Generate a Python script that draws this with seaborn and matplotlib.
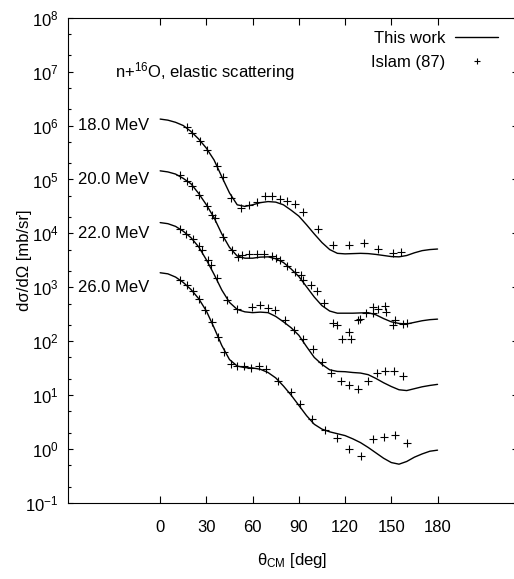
import numpy as np
import pandas as pd
import matplotlib
matplotlib.use("Agg")
import matplotlib.pyplot as plt
from matplotlib import font_manager
from matplotlib.lines import Line2D
from matplotlib.ticker import FixedLocator, FuncFormatter, LogLocator, NullFormatter
import seaborn as sns

# ---------------------------------------------------------------- data
energies = ["18.0 MeV", "20.0 MeV", "22.0 MeV", "26.0 MeV"]

# calculated angular distributions, log10 of plotted dsigma/dOmega
# (curves are shifted by factors of 10 for display)
theta_calc = [0, 5, 10, 15, 20, 25, 30, 35, 40, 45, 50, 55, 60, 65, 70, 75, 80, 85, 90,
              95, 100, 105, 110, 115, 120, 125, 130, 135, 140, 145, 150, 155, 160, 165,
              170, 175, 180]
calc_18 = [6.12, 6.10, 6.06, 6.00, 5.89, 5.75, 5.58, 5.36, 5.05, 4.75, 4.53, 4.50, 4.53,
           4.57, 4.59, 4.58, 4.53, 4.43, 4.32, 4.16, 3.99, 3.83, 3.70, 3.63, 3.62, 3.625,
           3.63, 3.625, 3.61, 3.59, 3.57, 3.565, 3.59, 3.64, 3.68, 3.70, 3.71]
calc_20 = [5.16, 5.14, 5.10, 5.02, 4.92, 4.74, 4.53, 4.29, 3.99, 3.74, 3.58, 3.54, 3.54,
           3.56, 3.565, 3.53, 3.46, 3.34, 3.20, 3.01, 2.82, 2.66, 2.56, 2.52, 2.52, 2.52,
           2.525, 2.53, 2.49, 2.42, 2.36, 2.33, 2.32, 2.35, 2.38, 2.40, 2.41]
calc_22 = [4.20, 4.18, 4.13, 4.04, 3.92, 3.75, 3.51, 3.24, 2.95, 2.72, 2.59, 2.545, 2.53,
           2.54, 2.53, 2.46, 2.36, 2.25, 2.11, 1.90, 1.70, 1.57, 1.47, 1.44, 1.435, 1.42,
           1.41, 1.38, 1.31, 1.23, 1.16, 1.10, 1.085, 1.12, 1.155, 1.18, 1.20]
calc_26 = [3.27, 3.25, 3.19, 3.09, 2.96, 2.79, 2.56, 2.25, 1.92, 1.66, 1.54, 1.51, 1.505,
           1.48, 1.42, 1.32, 1.17, 1.00, 0.81, 0.62, 0.46, 0.37, 0.32, 0.285, 0.25, 0.19,
           0.12, 0.03, -0.07, -0.17, -0.25, -0.28, -0.23, -0.15, -0.09, -0.04, -0.02]

# measured points, Islam (87): angle and log10 of plotted dsigma/dOmega
theta_exp_18 = [17.1, 20.8, 25.8, 30.5, 36.6, 40.5, 45.9, 52.2, 57.8, 62.9, 68.1, 72.9,
                77.7, 82.4, 87.6, 92.6, 102.5, 112.3, 122.7, 132.4, 141.5, 151.2, 156.6]
exp_18 = [5.98, 5.87, 5.72, 5.545, 5.25, 5.04, 4.65, 4.48, 4.53, 4.59, 4.69, 4.69,
          4.64, 4.605, 4.54, 4.395, 4.09, 3.78, 3.78, 3.83, 3.71, 3.64, 3.65]

theta_exp_20 = [12.8, 17.1, 20.4, 25.3, 30.5, 33.4, 35.5, 40.9, 46.3, 50.6, 52.8, 57.8,
                62.6, 67.3, 72.9, 75.1, 77.7, 82.4, 87.4, 91.1, 92.4, 97.6, 101.9, 106.4,
                111.9, 114.5, 117.7, 122.7, 123.6, 128.5, 130.0, 133.5, 137.8, 137.8,
                141.5, 145.8, 146.3, 151.2, 152.5, 157.3, 159.9]
exp_20 = [5.08, 4.98, 4.88, 4.71, 4.51, 4.35, 4.28, 3.94, 3.69, 3.565, 3.60, 3.61,
          3.62, 3.62, 3.58, 3.54, 3.505, 3.40, 3.29, 3.23, 3.14, 3.04, 2.94, 2.70,
          2.34, 2.31, 2.04, 2.17, 2.04, 2.40, 2.42, 2.52, 2.63, 2.53,
          2.59, 2.65, 2.545, 2.30, 2.40, 2.32, 2.33]

theta_exp_22 = [12.8, 16.7, 21.0, 25.3, 26.9, 31.1, 32.9, 37.2, 43.5, 50.0, 59.3, 64.7,
                70.1, 74.4, 80.9, 87.0, 92.8, 98.9, 104.7, 110.8, 117.1, 122.7, 128.5,
                134.6, 140.4, 145.8, 151.6, 157.7]
exp_22 = [4.09, 3.98, 3.89, 3.76, 3.69, 3.50, 3.42, 3.165, 2.76, 2.59, 2.63, 2.67,
          2.61, 2.58, 2.40, 2.21, 2.05, 1.85, 1.61, 1.41, 1.265, 1.19, 1.12,
          1.26, 1.41, 1.44, 1.455, 1.35]

theta_exp_26 = [12.8, 17.1, 21.0, 25.3, 29.0, 33.4, 37.6, 41.3, 45.7, 50.0, 54.5, 58.7,
                64.3, 68.6, 76.6, 84.6, 90.7, 98.6, 107.1, 114.5, 122.5, 130.2, 138.2,
                145.4, 152.7, 160.3]
exp_26 = [3.13, 3.04, 2.93, 2.78, 2.58, 2.36, 2.08, 1.80, 1.575, 1.54, 1.54, 1.51,
          1.54, 1.48, 1.265, 1.06, 0.83, 0.555, 0.35, 0.197, -0.007, -0.13, 0.18,
          0.23, 0.27, 0.115]

x_ticks = [0, 30, 60, 90, 120, 150, 180]
legend_labels = ["This work", "Islam (87)"]

# ---------------------------------------------------------------- tables
calc_sets = [calc_18, calc_20, calc_22, calc_26]
exp_sets = [(theta_exp_18, exp_18), (theta_exp_20, exp_20),
            (theta_exp_22, exp_22), (theta_exp_26, exp_26)]

curves = pd.concat(
    [pd.DataFrame({"theta": theta_calc, "dsig": np.power(10.0, c), "energy": e})
     for e, c in zip(energies, calc_sets)], ignore_index=True)
points = pd.concat(
    [pd.DataFrame({"theta": t, "dsig": np.power(10.0, v), "energy": e})
     for e, (t, v) in zip(energies, exp_sets)], ignore_index=True)

# ---------------------------------------------------------------- style
sns.set_style("ticks")
names = {f.name for f in font_manager.fontManager.ttflist}
family = "Liberation Sans Narrow" if "Liberation Sans Narrow" in names else "Liberation Sans"
fs = 14 if family == "Liberation Sans Narrow" else 12
plt.rcParams["font.family"] = [family, "DejaVu Sans"]
plt.rcParams["mathtext.fontset"] = "custom"
plt.rcParams["mathtext.rm"] = family
plt.rcParams["mathtext.it"] = family + ":italic"
plt.rcParams["mathtext.bf"] = family + ":bold"
plt.rcParams["axes.linewidth"] = 0.8
plt.rcParams["axes.edgecolor"] = "black"
plt.rcParams["text.color"] = "black"
plt.rcParams["axes.labelcolor"] = "black"

W, H = 514, 579
fig = plt.figure(figsize=(W / 100, H / 100), dpi=100)
# right frame edge sits just past the canvas, as in the original export
ax = fig.add_axes([67.7 / W, 76 / H, 449.2 / W, 485.3 / H])

for e in energies:
    sns.lineplot(data=curves[curves["energy"] == e], x="theta", y="dsig",
                 color="black", lw=1.0, sort=False, ax=ax, legend=False)
sns.scatterplot(data=points, x="theta", y="dsig", marker="+", color="black",
                s=26, linewidth=0.8, ax=ax, legend=False)

ax.set_yscale("log")
ax.set_xlim(-60, 231.5)
ax.set_ylim(1e-1, 1e8)

ax.xaxis.set_major_locator(FixedLocator(x_ticks))
ax.yaxis.set_major_locator(LogLocator(base=10, numticks=20))
ax.yaxis.set_minor_locator(LogLocator(base=10, subs=(2.0, 5.0), numticks=20))
ax.yaxis.set_minor_formatter(NullFormatter())
ax.yaxis.set_major_formatter(
    FuncFormatter(lambda v, p: r"$\mathregular{10^{%d}}$" % int(round(np.log10(v)))))

ax.tick_params(which="both", direction="in", top=True, right=True,
               labelsize=fs, colors="black", width=0.8)
ax.tick_params(axis="x", which="major", length=4.7, pad=12.5)
ax.tick_params(axis="y", which="major", length=3.6, pad=6.5)
ax.tick_params(axis="y", which="minor", length=2.0)

ax.set_xlabel(r"θ$_{\mathregular{CM}}$ [deg]", fontsize=fs, labelpad=11)
ax.set_ylabel("dσ/dΩ [mb/sr]", fontsize=fs, labelpad=-5)

# energy labels at the decade each curve is shifted to
for e, lvl in zip(energies, [1e6, 1e5, 1e4, 1e3]):
    ax.text(-53.6, lvl, e, ha="left", va="center", fontsize=fs)

ax.text(-29.4, 1e7, r"n+$^{\mathregular{16}}$O, elastic scattering",
        ha="left", va="center", fontsize=fs)

handles = [Line2D([], [], color="black", lw=1.0),
           Line2D([], [], ls="none", marker="+", color="black", ms=4, mew=0.8)]
ax.legend(handles, legend_labels, loc="upper right", bbox_to_anchor=(0.9575, 0.973),
          frameon=False, markerfirst=False, fontsize=fs, handlelength=2.54,
          handletextpad=0.63, labelspacing=0.55, borderpad=0, borderaxespad=0)

fig.savefig("out.png", dpi=100)
